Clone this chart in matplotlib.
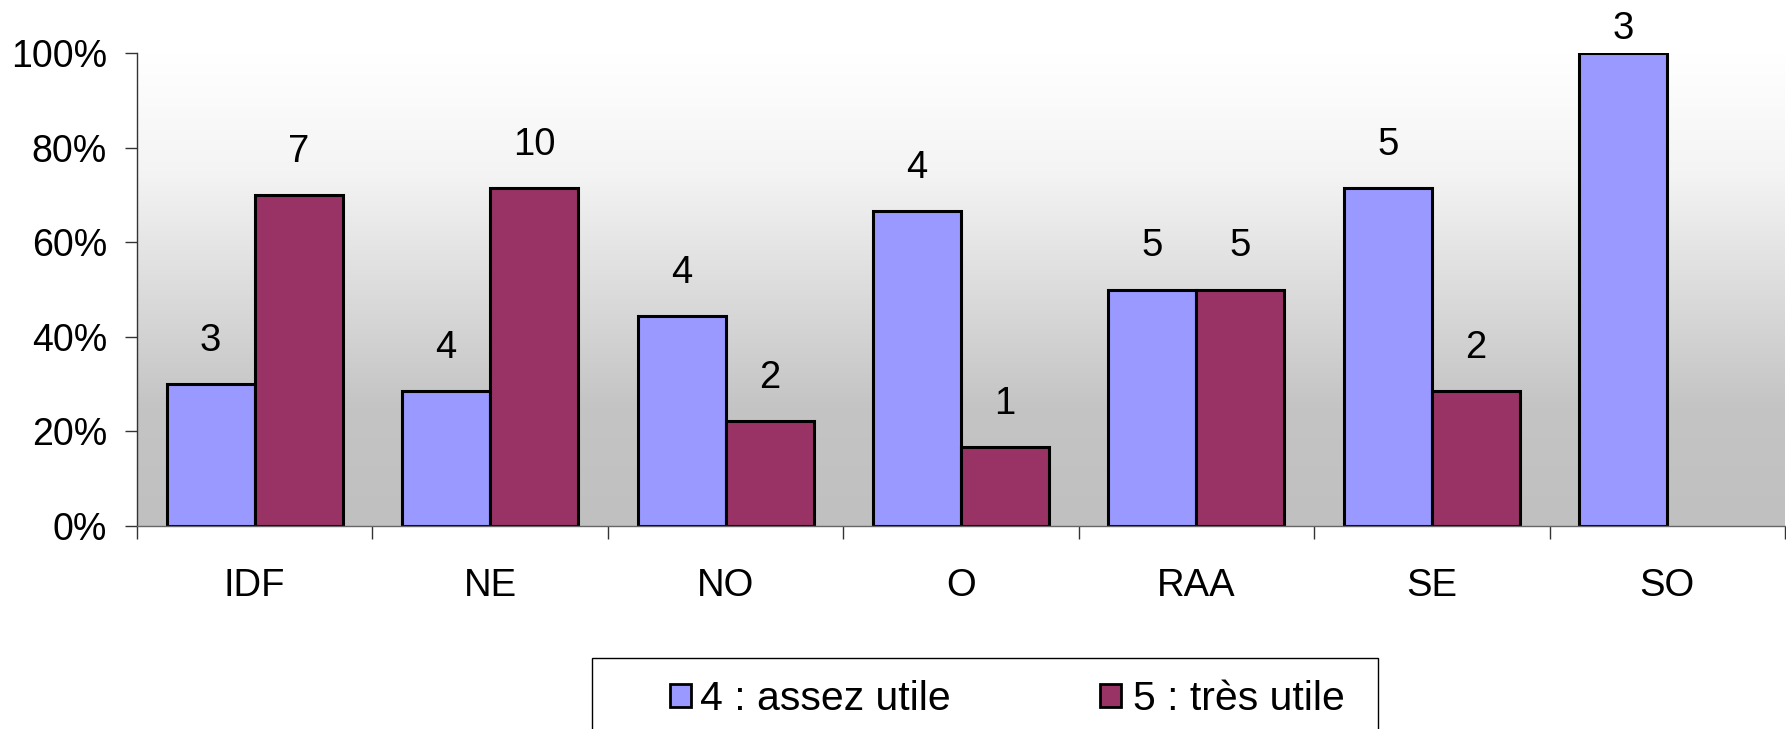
import numpy as np
import matplotlib
matplotlib.use("Agg")
import matplotlib.pyplot as plt
from matplotlib.patches import Rectangle
from matplotlib.ticker import FuncFormatter
from matplotlib.colors import LinearSegmentedColormap

plt.rcParams['font.family'] = ['Liberation Sans', 'DejaVu Sans']

categories = ["IDF", "NE", "NO", "O", "RAA", "SE", "SO"]
pct_assez = [30.0, 28.6, 44.4, 66.7, 50.0, 71.4, 100.0]
pct_tres = [70.0, 71.4, 22.2, 16.7, 50.0, 28.6, 0.0]
n_assez = [3, 4, 4, 4, 5, 5, 3]
n_tres = [7, 10, 2, 1, 5, 2, None]
series_names = ["4 : assez utile", "5 : très utile"]
colors = ["#9999FF", "#993366"]

W, H = 1786, 729
fig = plt.figure(figsize=(W / 100, H / 100), dpi=100)
ax = fig.add_axes([137 / W, 1 - 526 / H, 1648 / W, 473 / H])

x = np.arange(len(categories))
bw = 0.374

# gradient background
cmap = LinearSegmentedColormap.from_list("g", ["#c0c0c0", "#c4c4c4", "#dcdcdc", "#f4f4f4", "#ffffff"])
grad = np.linspace(0, 1, 256).reshape(-1, 1)
ax.imshow(grad, extent=[-0.5, 6.5, 0, 100], origin="lower", aspect="auto", cmap=cmap, zorder=0)

def edge_widths(vals):
    return [2.2 if v > 0 else 0 for v in vals]

bars1 = ax.bar(x - bw / 2, pct_assez, bw, color=colors[0], edgecolor="black",
               linewidth=edge_widths(pct_assez), zorder=2)
bars2 = ax.bar(x + bw / 2, pct_tres, bw, color=colors[1], edgecolor="black",
               linewidth=edge_widths(pct_tres), zorder=2)

ax.set_xlim(-0.5, 6.5)
ax.set_ylim(0, 100)

# data labels
fig.canvas.draw()
for bars, counts in ((bars1, n_assez), (bars2, n_tres)):
    for b, c in zip(bars, counts):
        if c is None or b.get_height() <= 0:
            continue
        xc = b.get_x() + b.get_width() / 2
        px, py = ax.transData.transform((xc, b.get_height()))
        base = py + 33
        top_limit = H - 11
        if base + 28 > top_limit:
            base = top_limit - 28
        tx, ty = ax.transData.inverted().transform((px, base))
        ax.text(xc, ty, str(c), ha="center", va="baseline", fontsize=27.5, zorder=3, clip_on=False)

# y axis
ax.set_yticks([0, 20, 40, 60, 80, 100])
ax.yaxis.set_major_formatter(FuncFormatter(lambda v, p: f"{int(v)}%"))
ax.tick_params(axis="y", direction="out", length=8.6, width=1, color="#333333", labelsize=27, pad=13)

# x axis: boundary ticks + centered labels
ax.set_xticks(np.arange(-0.5, 7.0, 1.0))
ax.set_xticklabels([])
ax.tick_params(axis="x", which="major", direction="out", length=9.5, width=1, color="#333333")
ax.set_xticks(x, minor=True)
ax.set_xticklabels(categories, minor=True)
ax.tick_params(axis="x", which="minor", length=0, labelsize=27.5, pad=30)

for s in ["top", "right"]:
    ax.spines[s].set_visible(False)
ax.spines["left"].set_color("#333333")
ax.spines["bottom"].set_color("#666666")
ax.spines["left"].set_linewidth(1)
ax.spines["bottom"].set_linewidth(1)

# legend box
fig.add_artist(Rectangle((592 / W, -0.05), (1378 - 592) / W, 0.05 + (729 - 658) / H,
                         transform=fig.transFigure, facecolor="white", edgecolor="black",
                         linewidth=1, clip_on=False))
leg_y = 1 - 695 / H
for name, col, sx, tx in zip(series_names, colors, [670, 1100], [700, 1133]):
    fig.add_artist(Rectangle((sx / W, 1 - 707 / H), 21 / W, 23 / H, transform=fig.transFigure,
                             facecolor=col, edgecolor="black", linewidth=2))
    fig.text(tx / W, leg_y, name, fontsize=29.5, va="center_baseline", ha="left")

fig.savefig("out.png", dpi=100)
